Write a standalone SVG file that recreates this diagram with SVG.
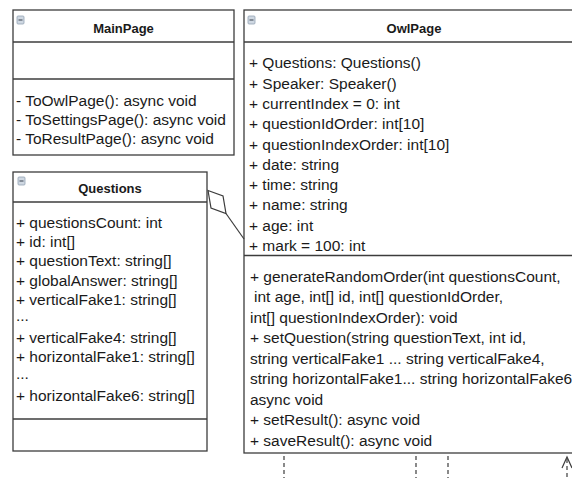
<svg xmlns="http://www.w3.org/2000/svg" width="572" height="478" viewBox="0 0 572 478">
  <style>
    .box { fill: #ffffff; stroke: #3c3c3c; stroke-width: 1.3; }
    .sep { stroke: #3c3c3c; stroke-width: 1.3; fill: none; }
    .title { font-family: "Liberation Sans", Arial, sans-serif; font-size: 13px; font-weight: bold; fill: #1a1a1a; text-anchor: middle; }
    .mem { font-family: "Liberation Sans", Arial, sans-serif; font-size: 15.5px; fill: #1a1a1a; }
    .icon { fill: #cfd8e2; stroke: #93a2b4; stroke-width: 0.8; }
    .icon-minus { stroke: #525c68; stroke-width: 1.2; }
    .link { stroke: #3c3c3c; stroke-width: 1.2; fill: none; }
    .dash { stroke: #3c3c3c; stroke-width: 1.2; stroke-dasharray: 4 3; fill: none; }
  </style>
  <rect width="572" height="478" fill="#ffffff"/>

  <!-- MainPage class -->
  <g id="mainpage">
    <rect class="box" x="13" y="10" width="221" height="145"/>
    <line class="sep" x1="13" y1="42" x2="234" y2="42"/>
    <line class="sep" x1="13" y1="79" x2="234" y2="79"/>
    <rect class="icon" x="17" y="16" width="7" height="8" rx="1"/>
    <line class="icon-minus" x1="18.5" y1="20" x2="22.5" y2="20"/>
    <text class="title" x="123.5" y="33">MainPage</text>
    <text class="mem" x="16" y="106">- ToOwlPage(): async void</text>
    <text class="mem" x="16" y="125">- ToSettingsPage(): async void</text>
    <text class="mem" x="16" y="144">- ToResultPage(): async void</text>
  </g>

  <!-- Questions class -->
  <g id="questions">
    <rect class="box" x="13" y="172" width="194" height="279"/>
    <line class="sep" x1="13" y1="202" x2="207" y2="202"/>
    <line class="sep" x1="13" y1="419" x2="207" y2="419"/>
    <rect class="icon" x="18" y="177" width="7" height="8" rx="1"/>
    <line class="icon-minus" x1="19.5" y1="181" x2="23.5" y2="181"/>
    <text class="title" x="110" y="193">Questions</text>
    <text class="mem" x="16" y="228">+ questionsCount: int</text>
    <text class="mem" x="16" y="247.2">+ id: int[]</text>
    <text class="mem" x="16" y="266.4">+ questionText: string[]</text>
    <text class="mem" x="16" y="285.6">+ globalAnswer: string[]</text>
    <text class="mem" x="16" y="304.8">+ verticalFake1: string[]</text>
    <text class="mem" x="16" y="321">...</text>
    <text class="mem" x="16" y="343.2">+ verticalFake4: string[]</text>
    <text class="mem" x="16" y="362.4">+ horizontalFake1: string[]</text>
    <text class="mem" x="16" y="378.6">...</text>
    <text class="mem" x="16" y="400.8">+ horizontalFake6: string[]</text>
  </g>

  <!-- OwlPage class (runs past the right edge) -->
  <g id="owlpage">
    <rect class="box" x="244" y="10" width="340" height="443"/>
    <line class="sep" x1="244" y1="42" x2="584" y2="42"/>
    <line class="sep" x1="244" y1="255.5" x2="584" y2="255.5"/>
    <rect class="icon" x="248" y="16" width="7" height="8" rx="1"/>
    <line class="icon-minus" x1="249.5" y1="20" x2="253.5" y2="20"/>
    <text class="title" x="414" y="33">OwlPage</text>
    <text class="mem" x="249" y="68.3">+ Questions: Questions()</text>
    <text class="mem" x="249" y="88.6">+ Speaker: Speaker()</text>
    <text class="mem" x="249" y="108.9">+ currentIndex = 0: int</text>
    <text class="mem" x="249" y="129.2">+ questionIdOrder: int[10]</text>
    <text class="mem" x="249" y="149.5">+ questionIndexOrder: int[10]</text>
    <text class="mem" x="249" y="169.8">+ date: string</text>
    <text class="mem" x="249" y="190.1">+ time: string</text>
    <text class="mem" x="249" y="210.4">+ name: string</text>
    <text class="mem" x="249" y="230.7">+ age: int</text>
    <text class="mem" x="249" y="251">+ mark = 100: int</text>
    <text class="mem" x="250" y="281.5">+ generateRandomOrder(int questionsCount,</text>
    <text class="mem" x="254" y="302">int age, int[] id, int[] questionIdOrder,</text>
    <text class="mem" x="250" y="322.5">int[] questionIndexOrder): void</text>
    <text class="mem" x="250" y="343">+ setQuestion(string questionText, int id,</text>
    <text class="mem" x="250" y="363.5">string verticalFake1 ... string verticalFake4,</text>
    <text class="mem" x="250" y="384">string horizontalFake1... string horizontalFake6):</text>
    <text class="mem" x="250" y="404.5">async void</text>
    <text class="mem" x="250" y="425">+ setResult(): async void</text>
    <text class="mem" x="250" y="445.5">+ saveResult(): async void</text>
  </g>

  <!-- connectors -->
  <g id="connectors">
    <!-- aggregation: OwlPage holds Questions -->
    <polygon class="link" fill="#ffffff" points="208,190.5 223,196 226,213.5 211,208"/>
    <line class="link" x1="226" y1="213.5" x2="244" y2="239"/>
    <!-- lines leaving the bottom of OwlPage -->
    <line class="dash" x1="284" y1="456" x2="284" y2="478"/>
    <line class="dash" x1="416" y1="456" x2="416" y2="478"/>
    <line class="dash" x1="448" y1="456" x2="448" y2="478"/>
    <line class="dash" x1="567" y1="459" x2="567" y2="478"/>
    <polyline class="link" points="562,468 567,457 572,468"/>
  </g>
</svg>
